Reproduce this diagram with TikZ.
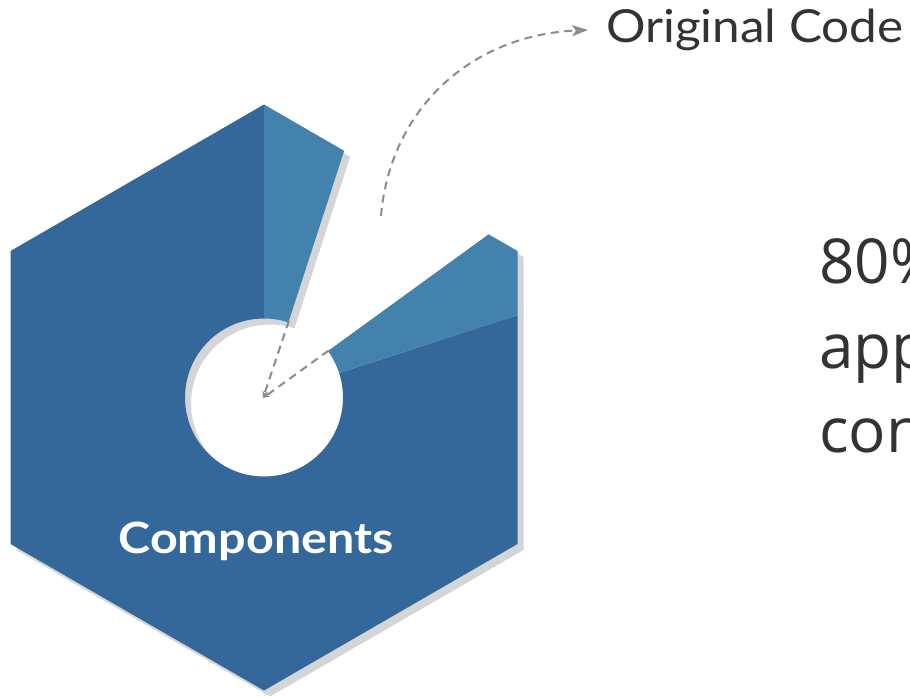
\documentclass[tikz,border=0pt]{standalone}
\usepackage{fontspec}
\usepackage{graphicx}
\usetikzlibrary{arrows.meta}
\newfontfamily\latofont{Lato}
\newfontfamily\opensansfont{Open Sans}
\definecolor{darkblue}{HTML}{35689A}
\definecolor{lightblue}{HTML}{4382AC}
\definecolor{shadowgray}{HTML}{D4D5D7}
\definecolor{dashgray}{HTML}{8C8C8C}
\definecolor{textgray}{HTML}{333333}
\newcommand\hexpath{(264,104.5) -- (517.5,251) -- (517.5,544) -- (264,690.5) -- (10.5,544) -- (10.5,251) -- cycle (264,397.5) circle (79)}
\newcommand\sectorclip[2]{\clip (264,397.5) -- plot[domain=#1:#2, samples=24] ({264+1000*cos(\x)},{397.5-1000*sin(\x)}) -- cycle;}
\tikzset{
  dashline/.style={draw=dashgray, line width=2pt, dash pattern=on 8pt off 5.5pt},
  bigtext/.style={text=textgray, inner sep=0pt, anchor=base west},
}
\begin{document}
\begin{tikzpicture}[x=1pt,y=-1pt]
\clip (0,0) rectangle (910,698);
\fill[white] (0,0) rectangle (910,698);
% shadow
\begin{scope}[shift={(6,6)}]
  \sectorclip{72}{396}
  \fill[shadowgray, even odd rule] \hexpath;
\end{scope}
% dark piece
\begin{scope}
  \sectorclip{90}{378}
  \fill[darkblue, even odd rule] \hexpath;
\end{scope}
% light pieces
\begin{scope}
  \sectorclip{72}{90}
  \fill[lightblue, even odd rule] \hexpath;
\end{scope}
\begin{scope}
  \sectorclip{18}{36}
  \fill[lightblue, even odd rule] \hexpath;
\end{scope}
% inner dashed arrows
\coordinate (ctr) at (263,398);
\coordinate (e1) at ({264+81*cos(72)},{397.5-81*sin(72)});
\coordinate (e2) at ({264+80*cos(36)},{397.5-80*sin(36)});
\draw[dashline, -{Stealth[length=7pt,width=6pt]}] (e1) -- (ctr);
\draw[dashline, -{Stealth[length=7pt,width=6pt]}] (e2) -- (ctr);
% label
\node[text=white, inner sep=0pt, anchor=base] (comp) at (256,553) {\resizebox{275pt}{31.5pt}{\latofont\bfseries Components}};
% Original Code
\node[bigtext] (orig) at (606,43) {\resizebox{297pt}{33.5pt}{\latofont Original Code}};
\coordinate (cs) at (381,216);
\coordinate (ce) at (588,30);
\draw[dashline, -{Stealth[length=16pt,width=11pt,inset=4pt]}] (cs) .. controls (390,110) and (470,35) .. (ce);
% right text
\node[bigtext] (t1) at (819,283) {\fontsize{62}{62}\selectfont\opensansfont 80\%};
\node[bigtext] (t2) at (819,368) {\fontsize{62}{62}\selectfont\opensansfont app};
\node[bigtext] (t3) at (819,452) {\fontsize{62}{62}\selectfont\opensansfont con};
\end{tikzpicture}
\end{document}
